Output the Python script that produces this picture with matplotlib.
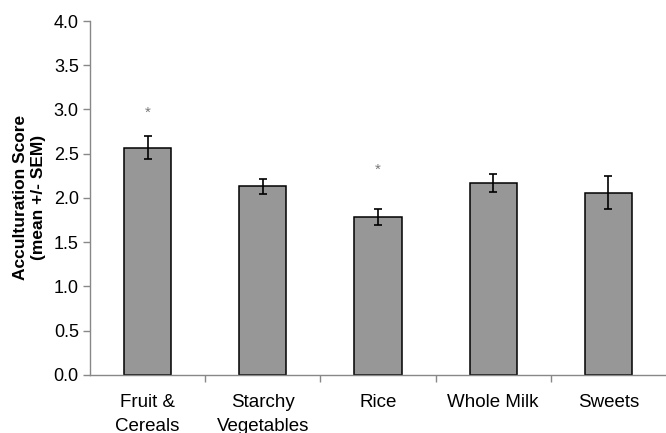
import matplotlib.pyplot as plt

plt.rcParams['font.family'] = ['Liberation Sans', 'DejaVu Sans']

categories = ['Fruit &\nCereals', 'Starchy\nVegetables', 'Rice', 'Whole Milk', 'Sweets']
means = [2.57, 2.13, 1.79, 2.17, 2.06]
sems = [0.13, 0.08, 0.09, 0.10, 0.19]
star_heights = {0: 2.96, 2: 2.32}

fig = plt.figure(figsize=(6.66, 4.33), dpi=100)
ax = fig.add_axes([0.135, 0.134, 0.865, 0.8175])

x = list(range(len(categories)))
ax.bar(x, means, width=0.41, color='#979797', edgecolor='black', linewidth=1.1, zorder=2)
ax.errorbar(x, means, yerr=sems, fmt='none', ecolor='black', elinewidth=1.2,
            capsize=3.2, capthick=1.2, zorder=3)

for i, h in star_heights.items():
    ax.text(i, h, '*', ha='center', va='center', fontsize=11, color='#777777')

ax.set_xlim(-0.5, len(categories) - 0.5)
ax.set_ylim(0, 4.0)
ax.set_yticks([0.0, 0.5, 1.0, 1.5, 2.0, 2.5, 3.0, 3.5, 4.0])
ax.set_yticklabels(['%.1f' % v for v in ax.get_yticks()], fontsize=13)
ax.set_xticks(x)
ax.set_xticklabels(categories, fontsize=13.5, linespacing=1.5)
ax.set_xticks([i + 0.5 for i in x[:-1]], minor=True)
ax.tick_params(axis='x', which='major', length=0, pad=14)
ax.tick_params(axis='x', which='minor', length=5, width=1, color='#888888', direction='out')
ax.tick_params(axis='y', length=5, width=1, color='#888888', pad=3)

for side in ['top', 'right']:
    ax.spines[side].set_visible(False)
for side in ['left', 'bottom']:
    ax.spines[side].set_color('#888888')
    ax.spines[side].set_linewidth(1)

fig.text(0.044, 0.543, 'Acculturation Score\n(mean +/- SEM)', rotation=90,
         ha='center', va='center', fontsize=12.5, fontweight='bold', linespacing=1.2)

plt.savefig('out.png', dpi=100)
plt.close()
